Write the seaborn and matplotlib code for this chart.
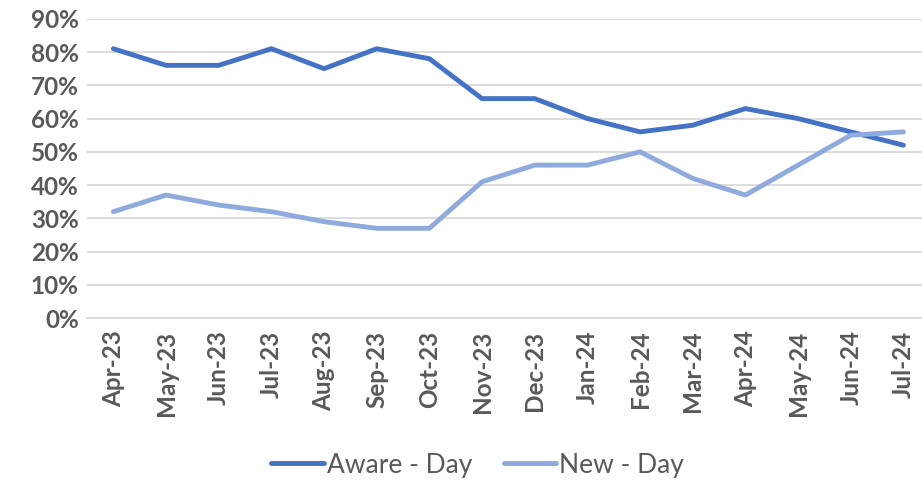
import numpy as np
import pandas as pd
import seaborn as sns
import matplotlib.pyplot as plt
from matplotlib.ticker import PercentFormatter, FixedLocator

months = ['Apr-23', 'May-23', 'Jun-23', 'Jul-23', 'Aug-23', 'Sep-23', 'Oct-23', 'Nov-23',
          'Dec-23', 'Jan-24', 'Feb-24', 'Mar-24', 'Apr-24', 'May-24', 'Jun-24', 'Jul-24']
aware_day = [81, 76, 76, 81, 75, 81, 78, 66, 66, 60, 56, 58, 63, 60, 56, 52]
new_day = [32, 37, 34, 32, 29, 27, 27, 41, 46, 46, 50, 42, 37, 46, 55, 56]

df = pd.DataFrame({
    'idx': list(range(len(months))) * 2,
    'value': aware_day + new_day,
    'series': ['Aware - Day'] * len(months) + ['New - Day'] * len(months),
})

sns.set_style('white')
plt.rcParams['font.family'] = ['Lato', 'DejaVu Sans']

fig = plt.figure(figsize=(9.22, 4.82), dpi=100)
ax = fig.add_axes([0.0944, 0.340, 0.914, 0.621])

sns.lineplot(data=df, x='idx', y='value', hue='series',
             palette={'Aware - Day': '#4472C4', 'New - Day': '#8FAADC'},
             linewidth=3.5, ax=ax, legend=True)

ax.set_xlim(-0.5, len(months) - 0.5)
ax.set_ylim(0, 90)
ax.set_yticks(range(0, 91, 10))
ax.yaxis.set_major_formatter(PercentFormatter(decimals=0))
ax.grid(axis='y', color='#D9D9D9', linewidth=1.3)
ax.set_axisbelow(True)

ax.set_xticks(range(len(months)))
ax.set_xticklabels(months, rotation=90)
ax.xaxis.set_minor_locator(FixedLocator(np.arange(-0.5, len(months), 1)))
ax.tick_params(axis='x', which='major', length=0, pad=9)
ax.tick_params(axis='x', which='minor', length=8, width=1.3, color='#D9D9D9')
ax.tick_params(axis='y', length=0, pad=6)
for lab in ax.get_xticklabels() + ax.get_yticklabels():
    lab.set_fontsize(17.5)
    lab.set_fontweight('bold')
    lab.set_color('#595959')

for s in ['top', 'right', 'left']:
    ax.spines[s].set_visible(False)
ax.spines['bottom'].set_color('#D9D9D9')
ax.spines['bottom'].set_linewidth(1.3)

ax.set_xlabel('')
ax.set_ylabel('')

handles, labels = ax.get_legend_handles_labels()
ax.get_legend().remove()
fig.legend(handles, labels, loc='center', bbox_to_anchor=(0.518, 0.035), ncol=2,
           frameon=False, fontsize=19, handlelength=2.0, columnspacing=1.2,
           handletextpad=0.1, labelcolor='#595959')

fig.savefig('out.png', dpi=100)
